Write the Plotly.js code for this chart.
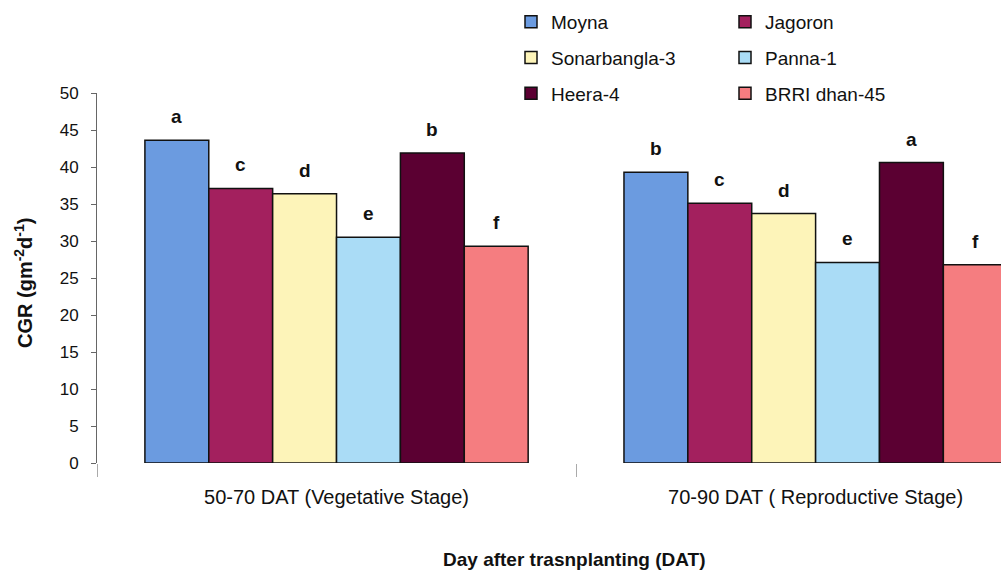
<!DOCTYPE html>
<html>
<head>
<meta charset="utf-8">
<script src="https://cdn.plot.ly/plotly-3.0.1.min.js"></script>
<style>html,body{margin:0;padding:0;background:#fff;overflow:hidden}#chart{width:1001px;height:570px}</style>
</head>
<body>
<div id="chart"></div>
<script>
const stages = ['50-70 DAT (Vegetative Stage)', '70-90 DAT ( Reproductive Stage)'];
const varieties = ['Moyna', 'Jagoron', 'Sonarbangla-3', 'Panna-1', 'Heera-4', 'BRRI dhan-45'];
const moyna = [43.6, 39.3];
const jagoron = [37.1, 35.1];
const sonarbangla3 = [36.4, 33.7];
const panna1 = [30.5, 27.1];
const heera4 = [41.9, 40.6];
const brriDhan45 = [29.3, 26.8];
const moynaLetters = ['a', 'b'];
const jagoronLetters = ['c', 'c'];
const sonarbangla3Letters = ['d', 'd'];
const panna1Letters = ['e', 'e'];
const heera4Letters = ['b', 'a'];
const brriDhan45Letters = ['f', 'f'];
const yTicks = [0, 5, 10, 15, 20, 25, 30, 35, 40, 45, 50];

const seriesValues = [moyna, jagoron, sonarbangla3, panna1, heera4, brriDhan45];
const seriesLetters = [moynaLetters, jagoronLetters, sonarbangla3Letters, panna1Letters, heera4Letters, brriDhan45Letters];
const colors = ['#6b9be0', '#a3205e', '#fdf4b9', '#aadcf6', '#5b0032', '#f57d80'];
const legendFor = ['legend', 'legend2', 'legend', 'legend2', 'legend', 'legend2'];
const FONT = 'Arial, "Liberation Sans", sans-serif';
const BARGAP = 0.2;

const traces = varieties.map((name, i) => ({
  type: 'bar',
  name: name,
  x: stages,
  y: seriesValues[i],
  marker: {color: colors[i], line: {color: '#111', width: 1.5}},
  legend: legendFor[i],
  legendgroup: name,
  hoverinfo: 'x+y+name'
}));

// significance letters placed over each bar (grouped-bar slot derived from bargap)
const slot = (1 - BARGAP) / varieties.length;
const letterAnnotations = [];
varieties.forEach((name, i) => {
  stages.forEach((st, j) => {
    letterAnnotations.push({
      xref: 'x', yref: 'y',
      x: j - (1 - BARGAP) / 2 + (i + 0.5) * slot,
      y: seriesValues[i][j],
      text: seriesLetters[i][j],
      showarrow: false,
      xanchor: 'center', yanchor: 'bottom',
      yshift: 11,
      font: {family: FONT, size: 19, color: '#111', weight: 'bold'}
    });
  });
});

const legendCommon = {
  orientation: 'v',
  font: {family: FONT, size: 19, color: '#111'},
  tracegroupgap: 8,
  bgcolor: 'rgba(0,0,0,0)',
  itemwidth: 30,
  xref: 'paper', yref: 'paper',
  xanchor: 'left', yanchor: 'top'
};

const layout = {
  width: 1001,
  height: 570,
  margin: {l: 97, r: 0, t: 93, b: 107},
  paper_bgcolor: '#ffffff',
  plot_bgcolor: '#ffffff',
  barmode: 'group',
  bargap: BARGAP,
  bargroupgap: 0,
  font: {family: FONT, color: '#111'},
  xaxis: {
    type: 'category',
    range: [-0.5, 1.387],
    showline: false,
    showgrid: false,
    zeroline: false,
    ticks: 'outside',
    tickson: 'boundaries',
    ticklen: 13,
    tickcolor: '#aaa',
    tickwidth: 1,
    tickfont: {family: FONT, size: 20, color: '#111'},
    ticklabelstandoff: 20
  },
  yaxis: {
    range: [0, 50],
    tickvals: yTicks,
    ticktext: yTicks.map(String),
    showline: true,
    linecolor: '#666',
    linewidth: 1,
    ticks: 'outside',
    ticklen: 5,
    tickcolor: '#666',
    ticklabelstandoff: 9,
    showgrid: false,
    zeroline: false,
    tickfont: {family: FONT, size: 17, color: '#111'}
  },
  legend: Object.assign({}, legendCommon, {x: (511 - 97) / 904, y: 1 + (93 - 3) / 370}),
  legend2: Object.assign({}, legendCommon, {x: (725 - 97) / 904, y: 1 + (93 - 3) / 370}),
  annotations: letterAnnotations.concat([{
    text: '<b>Day after trasnplanting (DAT)</b>',
    xref: 'paper', yref: 'paper',
    x: (574 - 97) / 904, y: -(559 - 463) / 370,
    xanchor: 'center', yanchor: 'middle',
    showarrow: false,
    font: {family: FONT, size: 19, color: '#111'}
  }, {
    text: '<b>CGR (gm<sup>-2</sup>d<sup>-1</sup>)</b>',
    xref: 'paper', yref: 'paper',
    x: (23 - 97) / 904, y: (463 - 283) / 370,
    xanchor: 'center', yanchor: 'middle',
    textangle: -90,
    showarrow: false,
    font: {family: FONT, size: 20, color: '#111'}
  }]),
  showlegend: true
};

Plotly.newPlot('chart', traces, layout, {displayModeBar: false, responsive: false});
</script>
</body>
</html>
